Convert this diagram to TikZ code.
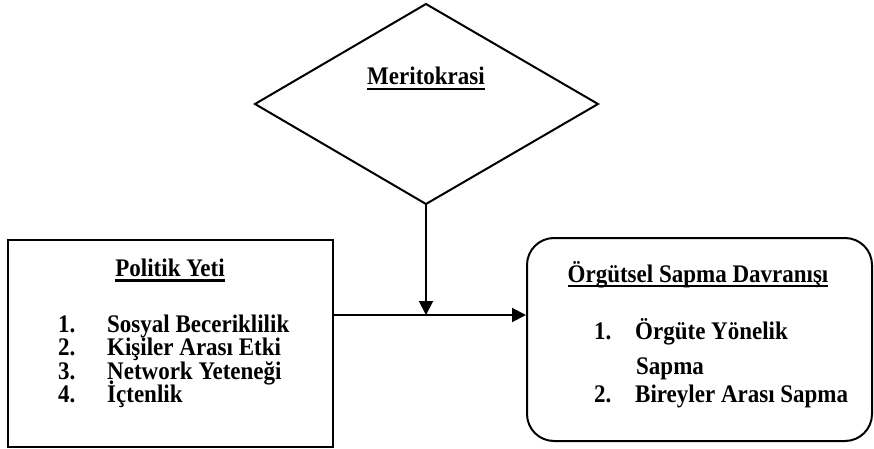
\documentclass[tikz,border=0pt]{standalone}
\usepackage{fontspec}
\usepackage{graphicx}
\setmainfont{Liberation Serif}
\newcommand\stxt[1]{\scalebox{1}[1.1]{#1}}
\newcommand\myul[1]{\setbox0\hbox{\stxt{#1}}\rlap{\vrule width\wd0 height -2.6pt depth 5.2pt}\box0}
\usetikzlibrary{arrows.meta,shapes.geometric}
\begin{document}
\begin{tikzpicture}[x=1pt,y=-1pt,
  boxline/.style={draw=black,line width=2pt},
  lbl/.style={font=\fontsize{23}{26}\selectfont\bfseries,inner sep=0pt},
  conn/.style={line width=2pt,-{Triangle[length=14pt,width=14pt]}}]
\useasboundingbox (0,0) rectangle (874,449);
% diamond
\coordinate (dT) at (426,4);
\coordinate (dL) at (255,104);
\coordinate (dR) at (598,104);
\coordinate (dB) at (426,204);
\draw[boxline,line join=miter] (dT) -- (dR) -- (dB) -- (dL) -- cycle;
\node[lbl,anchor=base] (mer) at (426,85) {\myul{Meritokrasi}};
% left box
\node[boxline,minimum width=325pt,minimum height=207pt,inner sep=0pt] (pol) at (170.5,343.5) {};
\node[lbl,anchor=base] (polt) at (170,276.5) {\myul{Politik Yeti}};
\node[lbl,anchor=base west] (n1) at (58,332) {\stxt{1.}};
\node[lbl,anchor=base west] (p1) at (107,332) {\stxt{Sosyal Beceriklilik}};
\node[lbl,anchor=base west] (n2) at (58,355.5) {\stxt{2.}};
\node[lbl,anchor=base west] (p2) at (107,355.5) {\stxt{Kişiler Arası Etki}};
\node[lbl,anchor=base west] (n3) at (58,379) {\stxt{3.}};
\node[lbl,anchor=base west] (p3) at (107,379) {\stxt{Network Yeteneği}};
\node[lbl,anchor=base west] (n4) at (58,402.5) {\stxt{4.}};
\node[lbl,anchor=base west] (p4) at (107,402.5) {\stxt{İçtenlik}};
% right box
\node[boxline,rounded corners=27pt,minimum width=345pt,minimum height=203pt,inner sep=0pt] (org) at (699.5,339.5) {};
\node[lbl,anchor=base] (orgt) at (698,282) {\myul{Örgütsel Sapma Davranışı}};
\node[lbl,anchor=base west] (m1) at (594,339) {\stxt{1.}};
\node[lbl,anchor=base west] (o1) at (635,339) {\stxt{Örgüte Yönelik}};
\node[lbl,anchor=base west] (o1b) at (636,374) {\stxt{Sapma}};
\node[lbl,anchor=base west] (m2) at (594,402) {\stxt{2.}};
\node[lbl,anchor=base west] (o2) at (635,402) {\stxt{Bireyler Arası Sapma}};
% connectors
\coordinate (j) at (426,315);
\draw[conn] (pol.east |- j) -- (org.west |- j);
\draw[conn] (dB) -- (j);
\end{tikzpicture}
\end{document}
